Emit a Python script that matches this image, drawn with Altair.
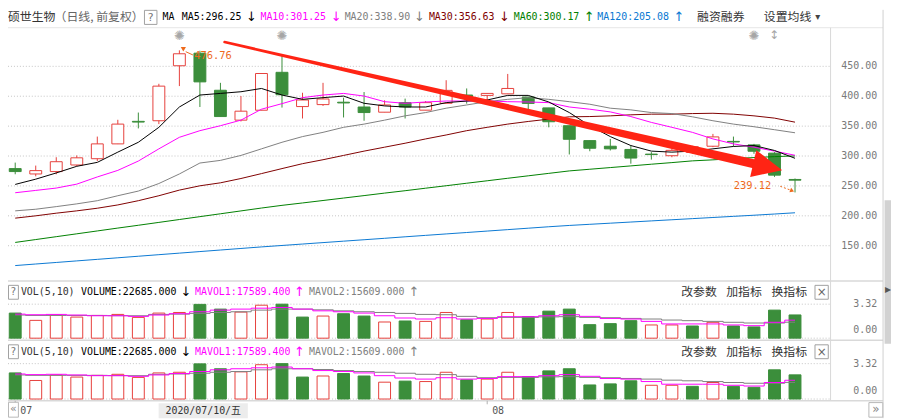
import altair as alt
import pandas as pd

# ---------------- data ----------------
dates = ["2020-07-01", "2020-07-02", "2020-07-03", "2020-07-06", "2020-07-07", "2020-07-08",
         "2020-07-09", "2020-07-10", "2020-07-13", "2020-07-14", "2020-07-15", "2020-07-16",
         "2020-07-17", "2020-07-20", "2020-07-21", "2020-07-22", "2020-07-23", "2020-07-24",
         "2020-07-27", "2020-07-28", "2020-07-29", "2020-07-30", "2020-07-31", "2020-08-03",
         "2020-08-04", "2020-08-05", "2020-08-06", "2020-08-07", "2020-08-10", "2020-08-11",
         "2020-08-12", "2020-08-13", "2020-08-14", "2020-08-17", "2020-08-18", "2020-08-19",
         "2020-08-20", "2020-08-21", "2020-08-24"]
opens = [279, 270, 274, 285, 295.5, 320.3, 358, 359, 451, 472, 410, 360, 376.6, 440, 382.7, 386,
         390, 382, 373.3, 389.3, 376.7, 388.2, 402, 401.4, 404, 398.7, 380.5, 350.7, 325.8, 316.4,
         311, 303.2, 300.5, 306, 316.4, 324.5, 318.6, 304.8, 260.8]
highs = [289, 284, 298, 301, 332.5, 360.6, 372.7, 420.8, 476.76, 476, 422.4, 400.3, 438, 469.3,
         405.8, 422.4, 397.6, 407, 393.2, 396, 392, 426.8, 413, 405, 437.3, 398.7, 380.5, 350.7,
         325.8, 328.6, 317.5, 306.5, 312, 317, 337, 332.5, 320.3, 306.5, 262.4]
lows = [269.5, 266, 269.5, 283, 291.6, 320, 346.2, 353.4, 417, 382, 366, 357.8, 376.6, 381, 362.8,
        383.8, 364.5, 359, 373.3, 362.8, 376.7, 388.2, 387.6, 392, 404, 375.5, 348, 302.6, 308,
        309.3, 287.2, 294, 298, 304, 314.8, 316, 303.7, 265.1, 239.12]
closes = [274, 275.6, 290.5, 297, 320.3, 353.4, 356.8, 416.9, 471, 424, 366, 375, 438, 402.5, 393.7,
          395.4, 388.8, 372.7, 385.4, 382, 389.3, 409.8, 399, 404.7, 413, 388, 357.3, 328, 313, 312,
          296.6, 302.4, 309.5, 315.5, 332, 323.5, 308, 268, 259.6]
ma5 = [252.5, 261.3, 271.7, 282.8, 289.4, 306.5, 323.0, 348.0, 382.0, 402.0, 404.7, 407.5, 413.0,
       402.0, 394.8, 397.6, 400.3, 388.2, 383.8, 382.0, 382.0, 389.3, 392.0, 393.7, 401.4, 401.4,
       390.4, 372.7, 350.7, 332.5, 317.5, 308.2, 306.5, 308.2, 312.0, 316.0, 317.5, 309.3, 296.25]
ma10 = [238.6, 242.5, 246.4, 253.0, 265.0, 276.0, 291.6, 312.0, 331.3, 342.4, 350.7, 360.0, 378.3,
        387.6, 397.6, 402.0, 404.7, 400.3, 390.9, 388.2, 390.4, 392.0, 392.0, 392.0, 390.9, 390.4,
        389.3, 382.0, 378.3, 373.8, 366.0, 356.2, 348.0, 339.6, 328.6, 320.3, 314.8, 308.2, 301.25]
ma20 = [208.3, 211.0, 215.4, 220.0, 225.3, 233.6, 241.4, 254.0, 270.0, 288.3, 292.7, 301.0, 312.0,
        323.0, 332.5, 339.6, 348.0, 353.4, 360.0, 367.2, 372.7, 380.0, 385.4, 390.9, 394.8, 397.6,
        394.8, 390.9, 386.6, 380.0, 377.2, 372.7, 371.0, 365.6, 359.0, 353.4, 349.0, 344.0, 338.9]
ma30 = [196.1, 200.0, 204.4, 208.3, 212.7, 218.2, 225.3, 233.6, 243.0, 250.2, 255.2, 262.4, 270.6,
        279.0, 287.2, 293.8, 301.0, 308.2, 314.8, 321.4, 328.6, 335.2, 342.4, 348.0, 353.4, 357.8,
        361.7, 365.6, 366.0, 367.2, 368.9, 370.0, 370.0, 371.0, 371.5, 370.0, 367.2, 363.4, 356.63]
ma60 = [155.5, 160.3, 165.1, 169.9, 174.7, 179.5, 184.2, 189.0, 193.8, 198.6, 203.4, 208.2, 213.0,
        217.5, 221.5, 225.6, 229.7, 233.8, 238.0, 242.0, 246.2, 250.3, 254.5, 258.6, 262.8, 266.9,
        271.0, 275.1, 277.9, 280.7, 283.5, 286.3, 289.0, 291.9, 293.6, 295.8, 297.4, 299.0, 300.17]
ma120 = [116.8, 119.4, 122.0, 124.6, 127.2, 129.8, 132.4, 135.0, 137.6, 140.2, 142.8, 145.4, 148.0,
         150.4, 152.8, 155.2, 157.6, 160.0, 162.4, 164.9, 167.3, 169.7, 172.1, 174.5, 176.9, 179.3,
         181.7, 183.9, 185.8, 187.7, 189.6, 191.5, 193.4, 195.3, 197.2, 199.1, 201.0, 203.0, 205.08]
# volume in units of 10 000 (axis shows 0.00 .. 3.32)
volumes = [2.45, 1.74, 2.26, 2.06, 2.22, 2.32, 2.03, 2.45, 2.51, 3.30, 2.84, 2.55, 3.22, 3.32, 2.06,
           2.16, 2.39, 2.16, 1.58, 1.68, 1.64, 2.51, 1.80, 1.87, 2.51, 2.10, 2.64, 2.84, 1.32, 1.42,
           1.71, 1.29, 1.29, 1.19, 1.55, 1.19, 1.10, 2.74, 2.2685]
vol_up = [False, True, True, True, True, True, True, True, True, False, False, True, True, False,
          False, True, False, False, True, False, True, True, False, True, True, False, False, False,
          False, False, False, True, True, False, True, False, False, False, False]
mavol1 = [2.35, 2.29, 2.32, 2.26, 2.19, 2.19, 2.13, 2.26, 2.39, 2.58, 2.74, 2.84, 2.93, 3.00, 2.84,
          2.67, 2.58, 2.45, 2.19, 1.97, 1.87, 2.00, 1.87, 1.93, 2.10, 2.10, 2.19, 2.29, 2.13, 1.93,
          1.87, 1.64, 1.39, 1.39, 1.39, 1.29, 1.22, 1.55, 1.75894]
mavol2 = [2.26, 2.22, 2.22, 2.22, 2.22, 2.20, 2.19, 2.32, 2.35, 2.42, 2.51, 2.58, 2.74, 2.84, 2.84,
          2.77, 2.67, 2.58, 2.51, 2.42, 2.32, 2.29, 2.13, 2.00, 2.03, 2.03, 2.08, 2.10, 2.03, 2.00,
          1.93, 1.87, 1.77, 1.71, 1.64, 1.55, 1.48, 1.48, 1.5609]

price_ticks = [150, 200, 250, 300, 350, 400, 450]
vol_ticks = [0.0, 3.32]
event_idx = [9, 14, 37]
split_idx = [38]
cursor_idx = 8
# hand-drawn red trend arrow (candle index, price, width)
arrow_i = [11.2, 36.96]
arrow_p = [490.6, 287.4]
arrow_w = [2.5, 9.0]
arrow_head_i = [37.67]
arrow_head_p = [281.8]

# ---------------- table ----------------
idx = list(range(1, len(dates) + 1))
df = pd.DataFrame({"i": idx, "date": dates, "open": opens, "high": highs, "low": lows,
                   "close": closes, "ma5": ma5, "ma10": ma10, "ma20": ma20, "ma30": ma30,
                   "ma60": ma60, "ma120": ma120, "vol": volumes, "vup": vol_up,
                   "mavol1": mavol1, "mavol2": mavol2})
df["up"] = df["close"] >= df["open"]

RED = "#e6403c"
GREEN = "#3b8e3b"
ORANGE = "#ee6a1c"
ARROW = "#ff2414"
GRID = "#c4c4c4"
SEP = "#d9d9d9"
MONO = "DejaVu Sans Mono, Noto Sans CJK SC"
CJK = "Noto Sans CJK SC"
ONE = pd.DataFrame({"k": [0]})

X_SCALE = alt.Scale(domain=[0.89, 40.49], range=[0, 830], nice=False, zero=False)
P_SCALE = alt.Scale(domain=[100, 500], range=[268.17, 26.83], nice=False, zero=False)
V1_SCALE = alt.Scale(domain=[0, 3.32], range=[331.3, 297.0], nice=False, zero=False)
V2_SCALE = alt.Scale(domain=[0, 3.32], range=[392.7, 357.0], nice=False, zero=False)
X = alt.X("i:Q", scale=X_SCALE, axis=None)


def PY(field):
    return alt.Y(f"{field}:Q", scale=P_SCALE, axis=None)


def txt(text, x, y, color="#333333", size=12, font=CJK, align="left"):
    return alt.Chart(ONE).mark_text(text=text, align=align, baseline="middle", color=color,
                                    fontSize=size, font=font).encode(x=alt.value(x), y=alt.value(y))


def box(x0, x1, y0, y1, fill="white", stroke=None, sw=1):
    kw = {"fill": fill}
    if stroke:
        kw.update(stroke=stroke, strokeWidth=sw)
    return alt.Chart(ONE).mark_rect(**kw).encode(x=alt.value(x0), x2=alt.value(x1),
                                                 y=alt.value(y0), y2=alt.value(y1))


def hline(y, x0, x1, color=SEP, sw=1):
    return alt.Chart(ONE).mark_rule(color=color, strokeWidth=sw).encode(
        x=alt.value(x0), x2=alt.value(x1), y=alt.value(y))


def vline(x, y0, y1, color=SEP, sw=1):
    return alt.Chart(ONE).mark_rule(color=color, strokeWidth=sw).encode(
        x=alt.value(x), y=alt.value(y0), y2=alt.value(y1))


def arrow_of(seq):
    return "↑" if seq[-1] >= seq[-2] else "↓"


layers = []

# ---------- frame / separators ----------
layers += [hline(18, 0, 883, "#e6e6e6"), hline(273.5, 0, 883, SEP, 1.5),
           hline(333.5, 0, 883, SEP, 1.5), hline(394.5, 0, 883, SEP, 1.5),
           vline(830, 18, 394.5), vline(883, 0, 412, "#cfcfcf"),
           box(884.5, 891, 192, 337, "#d2d2d2"),
           txt("▶", 888, 283, "#555555", 8, "DejaVu Sans", "center")]

# ---------- price grid + labels ----------
pt = pd.DataFrame({"v": price_ticks})
layers.append(alt.Chart(pt).mark_rule(color=GRID, strokeDash=[1, 2]).encode(
    y=PY("v"), x=alt.value(0), x2=alt.value(829)))
layers.append(alt.Chart(pt).mark_text(align="right", baseline="middle", font=MONO, fontSize=10,
                                      color="#7a7a7a").encode(
    y=PY("v"), x=alt.value(877), text=alt.Text("v:Q", format=".2f")))

# ---------- candles ----------
base = alt.Chart(df)
layers += [
    base.transform_filter("datum.up").mark_rule(color=RED, strokeWidth=1).encode(
        x=X, y=PY("low"), y2="high"),
    base.transform_filter("!datum.up").mark_rule(color=GREEN, strokeWidth=1).encode(
        x=X, y=PY("low"), y2="high"),
    base.transform_filter("datum.up").mark_bar(size=12, fill="white", stroke=RED,
                                                strokeWidth=1).encode(
        x=X, y=PY("open"), y2="close"),
    base.transform_filter("!datum.up").mark_bar(size=12, fill=GREEN, stroke=GREEN,
                                                 strokeWidth=1).encode(
        x=X, y=PY("open"), y2="close"),
]

ma_specs = [("ma120", "#0a78d2"), ("ma60", "#008000"), ("ma30", "#800000"),
            ("ma20", "#808080"), ("ma10", "#ff00ff"), ("ma5", "#000000")]
for name, col in ma_specs:
    layers.append(base.mark_line(color=col, strokeWidth=1).encode(x=X, y=PY(name)))

# ---------- volume panels ----------
for sc, gy in [(V1_SCALE, 0), (V2_SCALE, 1)]:
    vt = pd.DataFrame({"v": vol_ticks})
    layers.append(alt.Chart(vt).mark_rule(color=GRID, strokeDash=[1, 2]).encode(
        y=alt.Y("v:Q", scale=sc, axis=None), x=alt.value(0), x2=alt.value(829)))
    layers.append(alt.Chart(vt).transform_filter("datum.v > 0").mark_text(
        align="right", baseline="middle", font=MONO, fontSize=10, color="#7a7a7a").encode(
        y=alt.Y("v:Q", scale=sc, axis=None), x=alt.value(877),
        text=alt.Text("v:Q", format=".2f")))
    layers.append(alt.Chart(vt).transform_filter("datum.v == 0").mark_text(
        align="right", baseline="middle", font=MONO, fontSize=10, color="#7a7a7a", dy=-8).encode(
        y=alt.Y("v:Q", scale=sc, axis=None), x=alt.value(877),
        text=alt.Text("v:Q", format=".2f")))
    VY = alt.Y("vol:Q", scale=sc, axis=None)
    layers += [
        base.transform_filter("datum.vup").mark_bar(size=12, fill="white", stroke=RED,
                                                     strokeWidth=1).encode(x=X, y=VY,
                                                                           y2=alt.datum(0)),
        base.transform_filter("!datum.vup").mark_bar(size=12, fill=GREEN, stroke=GREEN,
                                                      strokeWidth=1).encode(x=X, y=VY,
                                                                            y2=alt.datum(0)),
        base.mark_line(color="#808080", strokeWidth=1, interpolate="step").encode(
            x=X, y=alt.Y("mavol2:Q", scale=sc, axis=None)),
        base.mark_line(color="#ff00ff", strokeWidth=1, interpolate="step").encode(
            x=X, y=alt.Y("mavol1:Q", scale=sc, axis=None)),
    ]

# ---------- event markers ----------
layers.append(alt.Chart(pd.DataFrame({"i": event_idx})).mark_text(
    text="✺", fontSize=13, color="#a6a6a6", font="DejaVu Sans", baseline="middle").encode(
    x=X, y=alt.value(26)))
layers.append(alt.Chart(pd.DataFrame({"i": split_idx})).mark_text(
    text="↕", fontSize=12, color="#a6a6a6", font="DejaVu Sans", baseline="middle").encode(
    x=X, y=alt.value(25)))

# ---------- high / low annotations ----------
hi = df.loc[df["high"].idxmax()]
lo = df.loc[df["low"].idxmin()]
hi_df = pd.DataFrame({"i": [hi["i"]], "p": [hi["high"]]})
lo_df = pd.DataFrame({"i": [lo["i"]], "p": [lo["low"]]})
layers += [
    alt.Chart(hi_df).mark_point(shape="triangle-down", filled=True, size=28, color=ORANGE,
                                opacity=1, xOffset=4, yOffset=-1).encode(x=X, y=PY("p")),
    alt.Chart(pd.DataFrame({"i": [9.31], "i2": [9.66], "p": [474.5], "p2": [469.0]})).mark_rule(
        color=ORANGE, strokeWidth=1).encode(x=X, x2="i2", y=PY("p"), y2="p2"),
    alt.Chart(hi_df).mark_text(align="left", baseline="middle", dx=15, dy=6, font=MONO,
                               fontSize=10.5, color=ORANGE).encode(
        x=X, y=PY("p"), text=alt.Text("p:Q", format=".2f")),
    alt.Chart(lo_df).mark_text(align="right", baseline="middle", dx=-24, dy=-6, font=MONO,
                               fontSize=10.5, color=ORANGE).encode(
        x=X, y=PY("p"), text=alt.Text("p:Q", format=".2f")),
    alt.Chart(pd.DataFrame({"i": [38.28], "i2": [38.84], "p": [249.4], "p2": [242.2]})).mark_rule(
        color=ORANGE, strokeWidth=1, strokeDash=[2, 2]).encode(x=X, x2="i2", y=PY("p"), y2="p2"),
    alt.Chart(pd.DataFrame({"i": [38.86], "p": [241.9]})).mark_point(
        shape="triangle-right", filled=True, size=22, angle=21, color=ORANGE, opacity=1).encode(
        x=X, y=PY("p")),
]

# ---------- red trend arrow ----------
arrow_df = pd.DataFrame({"i": arrow_i, "p": arrow_p, "w": arrow_w})
layers += [
    alt.Chart(arrow_df).mark_trail(color=ARROW, opacity=1).encode(
        x=X, y=PY("p"), size=alt.Size("w:Q", scale=None, legend=None)),
    alt.Chart(pd.DataFrame({"i": arrow_head_i, "p": arrow_head_p})).mark_point(
        shape="M-1,-0.93L1,0L-1,0.93Z", filled=True, size=900, angle=12.84, color=ARROW,
        opacity=1, strokeWidth=0).encode(x=X, y=PY("p")),
]

# ---------- main header ----------
layers += [
    txt("硕世生物", 0, 7, "#333333", 12),
    txt("（日线, 前复权）", 47, 7, "#666666", 12),
    box(137.7, 150.3, 0.5, 14.7, "white", "#a0a0a0"),
    txt("?", 144, 8, "#777777", 11, "DejaVu Sans", "center"),
    txt("MA", 156, 7, "#000000", 10, MONO),
]
ma_header = [("MA5", ma5, "#000000", 175.3, 245.5), ("MA10", ma10, "#ff00ff", 254.7, 331),
             ("MA20", ma20, "#808080", 339.7, 415), ("MA30", ma30, "#800000", 424.7, 501),
             ("MA60", ma60, "#008000", 510.3, 586.5), ("MA120", ma120, "#0a78d2", 594.7, 677)]
for name, seq, col, xt, xa in ma_header:
    layers.append(txt(f"{name}:{seq[-1]:.2f}", xt, 7, col, 10, MONO))
    layers.append(txt(arrow_of(seq), xa, 7, col, 13, "DejaVu Sans", "center"))
layers += [txt("融资融券", 695.3, 7, "#333333", 12),
           txt("设置均线", 762.7, 7, "#333333", 12),
           txt("▾", 817, 7, "#444444", 10, "DejaVu Sans", "center")]

# ---------- volume headers ----------
for dy in [0, 60]:
    y = 285 + dy
    layers += [
        box(0.5, 10.5, 278 + dy, 292 + dy, "white", "#a0a0a0"),
        txt("?", 5.5, y, "#777777", 10, "DejaVu Sans", "center"),
        txt("VOL(5,10)", 13, y, "#333333", 10, MONO),
        txt(f"VOLUME:{volumes[-1] * 10000:.3f}", 73.7, y, "#000000", 10, MONO),
        txt(arrow_of(volumes), 179.5, y, "#000000", 13, "DejaVu Sans", "center"),
        txt(f"MAVOL1:{mavol1[-1] * 10000:.3f}", 188.7, y, "#ff00ff", 10, MONO),
        txt(arrow_of(mavol1), 294, y, "#ff00ff", 13, "DejaVu Sans", "center"),
        txt(f"MAVOL2:{mavol2[-1] * 10000:.3f}", 303.7, y, "#808080", 10, MONO),
        txt(arrow_of(mavol2), 409.5, y, "#808080", 13, "DejaVu Sans", "center"),
        txt("改参数", 679.3, y, "#333333", 12),
        txt("加指标", 724.7, y, "#333333", 12),
        txt("换指标", 770.3, y, "#333333", 12),
        box(814.3, 827.7, 278 + dy, 292 + dy, "white", "#a0a0a0"),
        txt("×", 821, y, "#666666", 12, "DejaVu Sans", "center"),
    ]

# ---------- date axis ----------
dts = pd.to_datetime(pd.Series(dates))
month_rows = [k for k in range(len(dates)) if k == 0 or dts[k].month != dts[k - 1].month]
mdf = pd.DataFrame({"i": [idx[k] for k in month_rows],
                    "lab": [f"{dts[k].month:02d}" for k in month_rows]})
wk = "一二三四五六日"
cd = dts[cursor_idx - 1]
cursor_label = f"{cd.year}/{cd.month:02d}/{cd.day:02d}/{wk[cd.weekday()]}"
layers += [
    alt.Chart(mdf).mark_rule(color="#b0b0b0").encode(x=X, y=alt.value(394.5), y2=alt.value(398)),
    alt.Chart(mdf).mark_text(align="left", baseline="middle", dx=5, font=MONO, fontSize=10,
                             color="#555555").encode(x=X, y=alt.value(404.5), text="lab:N"),
    box(0.5, 10.5, 396, 411, "white", "#b8b8b8"),
    txt("«", 5.5, 403, "#888888", 11, "DejaVu Sans", "center"),
    box(152, 242, 397, 412, "#ececec"),
    txt(cursor_label, 197, 404.5, "#333333", 10, MONO, "center"),
    box(868.7, 882.7, 396.3, 411, "white", "#b8b8b8"),
    txt("»", 875.7, 403, "#888888", 12, "DejaVu Sans", "center"),
]

chart = alt.layer(*layers).resolve_scale(y="independent").properties(
    width=891, height=412, padding=0, autosize=alt.AutoSizeParams(type="none"),
    background="white"
).configure_view(stroke=None)

chart.save("out.html", embed_options={"renderer": "svg", "actions": False})
